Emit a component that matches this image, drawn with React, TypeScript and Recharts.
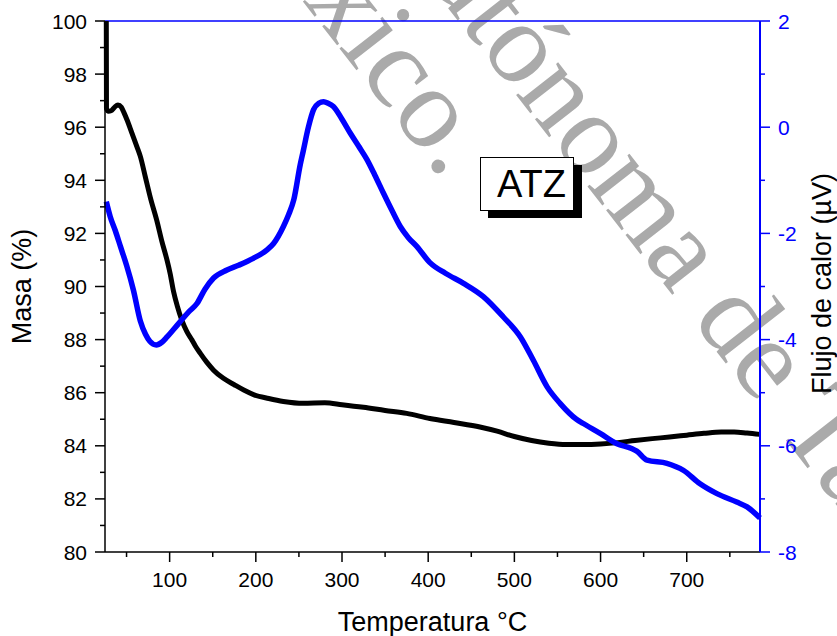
import {
  ComposedChart,
  Line,
  XAxis,
  YAxis,
  ReferenceLine,
} from 'recharts';

// TGA (mass) curve
const massTemps = [
  26.5, 26.7, 29, 32, 36, 40, 44, 47, 50.5, 56, 62, 66, 72, 78, 85, 91, 96.9, 100.5,
  104.6, 109, 114, 120, 126, 130, 135.6, 143, 151, 162, 175, 186, 198, 215, 232, 255,
  280, 300, 325, 350, 375, 402, 430, 460, 480, 500, 520, 540, 560, 580, 600, 620, 640,
  660, 680, 700, 720, 740, 755, 770, 785,
];
const massValues = [
  100, 96.7, 96.6, 96.62, 96.75, 96.84, 96.75, 96.55, 96.28, 95.8, 95.27, 94.9, 94.1,
  93.3, 92.5, 91.7, 91.0, 90.5, 89.8, 89.25, 88.74, 88.3, 87.98, 87.75, 87.48, 87.15,
  86.85, 86.55, 86.3, 86.1, 85.92, 85.78, 85.67, 85.6, 85.62, 85.55, 85.45, 85.33,
  85.22, 85.03, 84.88, 84.71, 84.55, 84.35, 84.2, 84.1, 84.05, 84.05, 84.07, 84.12,
  84.2, 84.27, 84.33, 84.4, 84.47, 84.52, 84.52, 84.48, 84.43,
];

// DSC (heat flow) curve
const flowTemps = [
  26.5, 31, 37, 43, 50, 58, 66, 72, 77, 84.5, 91, 97, 104, 112.4, 122, 131.7, 141, 151,
  166.5, 180, 197, 213, 220.6, 232, 238, 244, 251.6, 255, 261, 267, 273, 278.6, 284, 290,
  300, 309.5, 319, 329, 338, 348, 358, 367.6, 377, 387, 402, 420, 441, 464, 487, 507,
  522, 538, 553, 572, 580, 600, 619, 636, 642, 654, 677, 696, 715, 735, 758, 770, 785,
];
const flowValues = [
  -1.4, -1.68, -1.95, -2.25, -2.6, -3.07, -3.65, -3.9, -4.03, -4.1, -4.05, -3.95, -3.82,
  -3.66, -3.48, -3.32, -3.05, -2.84, -2.69, -2.6, -2.47, -2.31, -2.19, -1.87, -1.65,
  -1.37, -0.7, -0.45, 0.0, 0.33, 0.45, 0.48, 0.45, 0.39, 0.15, -0.11, -0.35, -0.61, -0.9,
  -1.24, -1.57, -1.87, -2.08, -2.25, -2.55, -2.75, -2.94, -3.19, -3.57, -3.95, -4.39,
  -4.89, -5.2, -5.5, -5.58, -5.77, -5.96, -6.05, -6.1, -6.27, -6.33, -6.46, -6.71, -6.9,
  -7.06, -7.15, -7.36,
];

const tempTicks = [50, 100, 150, 200, 250, 300, 350, 400, 450, 500, 550, 600, 650, 700, 750];
const massTicks = [80, 81, 82, 83, 84, 85, 86, 87, 88, 89, 90, 91, 92, 93, 94, 95, 96, 97, 98, 99, 100];
const flowTicks = [-8, -7, -6, -5, -4, -3, -2, -1, 0, 1, 2];

const massData = massTemps.map((t, i) => ({ t, m: massValues[i] }));
const flowData = flowTemps.map((t, i) => ({ t, f: flowValues[i] }));

const FONT = "'Liberation Sans', Arial, sans-serif";
const BLUE = '#0000FF';
const TICK_LEN = 10;
const MINOR_LEN = 5;
const GAP_Y = 8;
const GAP_X = 10;
const TITLE_SIZE = 27;

function LeftTick({ x, y, payload }: any) {
  const major = payload.value % 2 === 0;
  const axisX = x + GAP_Y + TICK_LEN;
  return (
    <g>
      <line x1={axisX - (major ? TICK_LEN : MINOR_LEN)} x2={axisX} y1={y} y2={y} stroke="#000" strokeWidth={1.5} />
      {major && (
        <text x={x} y={y} dy="0.36em" textAnchor="end" fontSize={21} fontFamily={FONT} fill="#000">
          {payload.value}
        </text>
      )}
    </g>
  );
}

function RightTick({ x, y, payload }: any) {
  const major = payload.value % 2 === 0;
  const axisX = x - GAP_Y - TICK_LEN;
  return (
    <g>
      <line x1={axisX} x2={axisX + (major ? TICK_LEN : MINOR_LEN)} y1={y} y2={y} stroke={BLUE} strokeWidth={1.5} />
      {major && (
        <text x={x} y={y} dy="0.36em" textAnchor="start" fontSize={21} fontFamily={FONT} fill={BLUE}>
          {payload.value}
        </text>
      )}
    </g>
  );
}

function BottomTick({ x, y, payload }: any) {
  const major = payload.value % 100 === 0;
  const axisY = y - GAP_X - TICK_LEN;
  return (
    <g>
      <line x1={x} x2={x} y1={axisY} y2={axisY + (major ? TICK_LEN : MINOR_LEN)} stroke="#000" strokeWidth={1.5} />
      {major && (
        <text x={x} y={y} dy="0.71em" textAnchor="middle" fontSize={21} fontFamily={FONT} fill="#000">
          {payload.value}
        </text>
      )}
    </g>
  );
}

export default function App() {
  return (
    <div style={{ position: 'absolute', left: 0, top: 0, width: 837, height: 636, background: '#fff', overflow: 'hidden' }}>
      {/* watermark behind the plot */}
      <svg width={837} height={636} style={{ position: 'absolute', left: 0, top: 0 }}>
        <g fill="#aaaaaa" fontFamily="'Liberation Serif', 'Times New Roman', serif" fontSize={116}>
          <text transform="translate(443,181) rotate(52)" textAnchor="end">México.</text>
          <text transform="translate(459,22) rotate(52)" textAnchor="end">Universidad Au</text>
          <text transform="translate(459,22) rotate(52)">tónoma de Tamaulipas</text>
        </g>
      </svg>

      <div style={{ position: 'absolute', left: 0, top: 0 }}>
        <ComposedChart width={837} height={636} margin={{ top: 21, right: 0, bottom: 0, left: 0 }}>
          <XAxis
            dataKey="t"
            type="number"
            domain={[25, 785]}
            ticks={tempTicks}
            interval={0}
            height={84}
            tickSize={TICK_LEN}
            tickMargin={GAP_X}
            tickLine={false}
            tick={<BottomTick />}
            axisLine={{ stroke: '#000', strokeWidth: 1.5 }}
            label={{
              content: ({ viewBox }: any) => (
                <text x={viewBox.x + viewBox.width / 2} y={viewBox.y + 79} textAnchor="middle" fontSize={TITLE_SIZE} fontFamily={FONT} fill="#000">
                  Temperatura °C
                </text>
              ),
            }}
          />
          <YAxis
            yAxisId="left"
            type="number"
            domain={[80, 100]}
            ticks={massTicks}
            interval={0}
            width={105}
            tickSize={TICK_LEN}
            tickMargin={GAP_Y}
            tickLine={false}
            tick={<LeftTick />}
            axisLine={{ stroke: '#000', strokeWidth: 1.5 }}
            label={{
              content: ({ viewBox }: any) => (
                <text
                  transform={`translate(${viewBox.x + 31},${viewBox.y + viewBox.height / 2}) rotate(-90)`}
                  textAnchor="middle"
                  fontSize={TITLE_SIZE}
                  fontFamily={FONT}
                  fill="#000"
                >
                  Masa (%)
                </text>
              ),
            }}
          />
          <YAxis
            yAxisId="right"
            orientation="right"
            type="number"
            domain={[-8, 2]}
            ticks={flowTicks}
            interval={0}
            width={77}
            tickSize={TICK_LEN}
            tickMargin={GAP_Y}
            tickLine={false}
            tick={<RightTick />}
            axisLine={{ stroke: BLUE, strokeWidth: 2 }}
            label={{
              content: ({ viewBox }: any) => (
                <text
                  transform={`translate(${viewBox.x + 71},${viewBox.y + viewBox.height / 2 - 3}) rotate(-90)`}
                  textAnchor="middle"
                  fontSize={TITLE_SIZE}
                  fontFamily={FONT}
                  fill="#000"
                >
                  Flujo de calor (µV)
                </text>
              ),
            }}
          />
          <ReferenceLine yAxisId="left" y={100} stroke={BLUE} strokeWidth={1.5} />
          <Line
            yAxisId="left"
            data={massData}
            dataKey="m"
            type="monotone"
            stroke="#000"
            strokeWidth={5}
            strokeLinejoin="round"
            dot={false}
            activeDot={false}
            isAnimationActive={false}
          />
          <Line
            yAxisId="right"
            data={flowData}
            dataKey="f"
            type="monotone"
            stroke={BLUE}
            strokeWidth={5.5}
            strokeLinejoin="round"
            dot={false}
            activeDot={false}
            isAnimationActive={false}
          />
        </ComposedChart>
      </div>

      {/* sample tag */}
      <svg width={837} height={636} style={{ position: 'absolute', left: 0, top: 0, pointerEvents: 'none' }}>
        <rect x={488} y={165} width={94} height={53} fill="#000" />
        <rect x={480.5} y={157.5} width={93} height={53} fill="#fff" stroke="#000" strokeWidth={1} />
        <text x={497} y={197} fontSize={38} fontFamily={FONT} fill="#000">ATZ</text>
      </svg>
    </div>
  );
}
